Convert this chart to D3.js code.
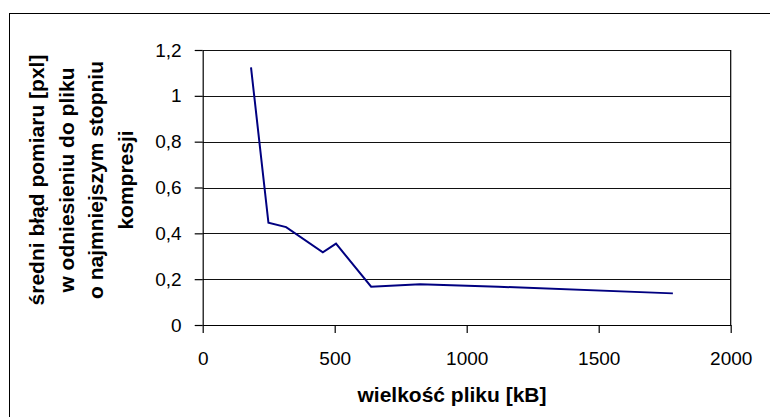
<!DOCTYPE html>
<html>
<head>
<meta charset="utf-8">
<script src="https://cdn.jsdelivr.net/npm/d3@7"></script>
<style>
  body { margin: 0; background: #fff; }
  text { font-family: "Liberation Sans", Arial, sans-serif; }
</style>
</head>
<body>
<script>
// file size [kB] vs mean measurement error [px]
const fileSize = [183, 249, 316, 455, 505, 638, 823, 1120, 1781];
const meanError = [1.124, 0.446, 0.427, 0.317, 0.355, 0.167, 0.178, 0.167, 0.138];
const yTicks = [0, 0.2, 0.4, 0.6, 0.8, 1, 1.2];
const xTicks = [0, 500, 1000, 1500, 2000];
const yTitle = ["średni błąd pomiaru [pxl]", "w odniesieniu do pliku", "o najmniejszym stopniu", "kompresji"];
const xTitle = "wielkość pliku [kB]";

const w = 770, h = 417;
const plotL = 202.7, plotR = 730.7, plotT = 50, plotB = 325;

const svg = d3.select("body").append("svg").attr("width", w).attr("height", h);

// outer chart frame (runs off the right and bottom edges)
svg.append("rect")
  .attr("x", 9.5).attr("y", 13.5)
  .attr("width", 900).attr("height", 600)
  .attr("fill", "none").attr("stroke", "#000").attr("stroke-width", 1);

const x = d3.scaleLinear().domain([0, 2000]).range([plotL, plotR]);
const y = d3.scaleLinear().domain([0, 1.2]).range([plotB, plotT]);

// gridlines
svg.append("g").selectAll("line")
  .data(yTicks.filter(d => d > 0))
  .enter().append("line")
  .attr("x1", plotL).attr("x2", plotR)
  .attr("y1", d => Math.round(y(d)) + 0.5).attr("y2", d => Math.round(y(d)) + 0.5)
  .attr("stroke", "#111").attr("stroke-width", 1);

// right border of the plot
svg.append("line")
  .attr("x1", plotR).attr("x2", plotR)
  .attr("y1", plotT).attr("y2", plotB)
  .attr("stroke", "#000").attr("stroke-width", 1.2);

const fmt = d => String(d).replace(".", ",");

const yAxis = svg.append("g")
  .attr("transform", "translate(" + plotL + ",0)")
  .call(d3.axisLeft(y).tickValues(yTicks).tickFormat(fmt).tickSize(8).tickSizeOuter(0).tickPadding(13));

const xAxis = svg.append("g")
  .attr("transform", "translate(0," + plotB + ")")
  .call(d3.axisBottom(x).tickValues(xTicks).tickFormat(d => d).tickSize(8).tickSizeOuter(0).tickPadding(19));

[yAxis, xAxis].forEach(g => {
  g.selectAll("text").attr("font-size", "19px").attr("fill", "#000")
    .attr("font-family", "\"Liberation Sans\", Arial, sans-serif");
  g.selectAll("line").attr("stroke", "#000").attr("stroke-width", 1.2);
  g.select(".domain").attr("stroke", "#000").attr("stroke-width", 1.2);
});

// data line
const line = d3.line().x((d, i) => x(fileSize[i])).y(d => y(d));
svg.append("path")
  .datum(meanError)
  .attr("d", line)
  .attr("fill", "none")
  .attr("stroke", "#000080")
  .attr("stroke-width", 2);

// axis titles
const lineX = [44, 73.5, 103, 132.5];
svg.append("g").selectAll("text")
  .data(yTitle)
  .enter().append("text")
  .attr("transform", (d, i) => "translate(" + lineX[i] + ",180) rotate(-90)")
  .attr("text-anchor", "middle")
  .attr("font-size", "21px")
  .attr("font-weight", "bold")
  .text(d => d);

svg.append("text")
  .attr("x", 452).attr("y", 402)
  .attr("text-anchor", "middle")
  .attr("font-size", "21px")
  .attr("font-weight", "bold")
  .text(xTitle);
</script>
</body>
</html>
